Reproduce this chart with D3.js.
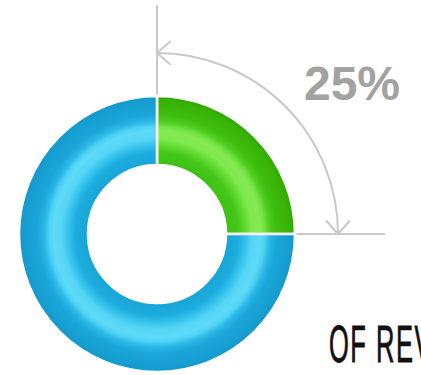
<!DOCTYPE html>
<html>
<head>
<meta charset="utf-8">
<script src="https://cdn.jsdelivr.net/npm/d3@7"></script>
<style>
  html, body { margin: 0; padding: 0; background: #fff; overflow: hidden; }
  svg { display: block; }
</style>
</head>
<body>
<svg id="chart" width="421" height="375"></svg>
<script>
// Revenue share shown as a donut
const categories = ["Share", "Rest"];
const values = [25, 75];
const caption = "OF REVENUE";

const cx = 157, cy = 234;
const rInner = 69, rOuter = 138;
const rAnnot = 181;

const svg = d3.select("#chart");
const defs = svg.append("defs");

// Radial shading bands across the ring thickness (0 = inner edge, 1 = outer edge)
const bandStops = {
  Rest: [
    [0.00, "#19a4d6"], [0.18, "#1cacdd"], [0.29, "#35c3ec"], [0.38, "#55d5f5"],
    [0.50, "#5ddaf8"], [0.56, "#50d2f4"], [0.63, "#2bb9e6"], [0.73, "#1aa6d8"],
    [0.90, "#179fd2"], [1.00, "#1598cc"]
  ],
  Share: [
    [0.00, "#3fc014"], [0.18, "#45c71a"], [0.29, "#62db32"], [0.38, "#80e94f"],
    [0.50, "#84ea52"], [0.56, "#72e141"], [0.63, "#4fcd20"], [0.73, "#3fbd0e"],
    [0.90, "#38b306"], [1.00, "#30a800"]
  ]
};
const color = d3.scaleOrdinal().domain(categories).range(categories.map(c => `url(#grad-${c})`));

categories.forEach(c => {
  const g = defs.append("radialGradient")
    .attr("id", `grad-${c}`)
    .attr("gradientUnits", "userSpaceOnUse")
    .attr("cx", 0).attr("cy", 0).attr("r", rOuter);
  bandStops[c].forEach(([t, col]) => {
    g.append("stop")
      .attr("offset", (rInner + t * (rOuter - rInner)) / rOuter)
      .attr("stop-color", col);
  });
});

const pie = d3.pie().sort(null).value(d => d.value);
const arcs = pie(categories.map((c, i) => ({ key: c, value: values[i] })));
const arc = d3.arc().innerRadius(rInner).outerRadius(rOuter);

const gDonut = svg.append("g").attr("transform", `translate(${cx},${cy})`);

// Guide lines at the start and end of the highlighted slice
const share = arcs[0];
const guide = "#c9c9c9";
const polar = (a, r) => [Math.sin(a) * r, -Math.cos(a) * r];

const guideLen = [cy - 5, 385 - cx];
[share.startAngle, share.endAngle].forEach((a, i) => {
  const [x1, y1] = polar(a, rInner);
  const [x2, y2] = polar(a, guideLen[i]);
  gDonut.append("line")
    .attr("x1", x1).attr("y1", y1).attr("x2", x2).attr("y2", y2)
    .attr("stroke", guide).attr("stroke-width", 2);
});

gDonut.selectAll("path.slice")
  .data(arcs)
  .join("path")
  .attr("class", "slice")
  .attr("d", arc)
  .attr("fill", d => color(d.data.key))
  .attr("stroke", "#fff")
  .attr("stroke-width", 2.5)
  .attr("stroke-linejoin", "miter");

// Angle annotation with open arrowheads
const annot = d3.arc().innerRadius(rAnnot).outerRadius(rAnnot)
  .startAngle(share.startAngle).endAngle(share.endAngle);
gDonut.append("path")
  .attr("d", annot())
  .attr("fill", "none")
  .attr("stroke", guide)
  .attr("stroke-width", 2);

function arrowHead(a, dir) {
  // tip on the arc, arms pointing back along the arc
  const [tx, ty] = polar(a, rAnnot);
  const tan = [Math.cos(a) * dir, Math.sin(a) * dir];
  const len = 18, spread = 0.72;
  const p = d3.path();
  [-spread, spread].forEach(s => {
    const ca = Math.cos(s), sa = Math.sin(s);
    const bx = -(tan[0] * ca - tan[1] * sa);
    const by = -(tan[0] * sa + tan[1] * ca);
    p.moveTo(tx + bx * len, ty + by * len);
    p.lineTo(tx, ty);
  });
  gDonut.append("path")
    .attr("d", p.toString())
    .attr("fill", "none")
    .attr("stroke", guide)
    .attr("stroke-width", 2);
}
arrowHead(share.startAngle, -1);
arrowHead(share.endAngle, 1);

// Percentage label
const total = d3.sum(values);
svg.append("text")
  .attr("x", 352).attr("y", 100)
  .attr("text-anchor", "middle")
  .attr("font-family", "Liberation Sans, Arial, sans-serif")
  .attr("font-weight", "bold")
  .attr("font-size", 48)
  .attr("fill", "#a2a2a2")
  .text(d3.format(".0%")(values[0] / total));

// Caption, tightly condensed, running off the right edge
svg.append("text")
  .attr("transform", "translate(329,362) scale(0.5,1)")
  .attr("font-family", "Liberation Sans Narrow, Liberation Sans, sans-serif")
  .attr("font-size", 51)
  .attr("letter-spacing", 3)
  .attr("fill", "#111")
  .attr("stroke", "#111")
  .attr("stroke-width", 0.8)
  .text(caption);
</script>
</body>
</html>
